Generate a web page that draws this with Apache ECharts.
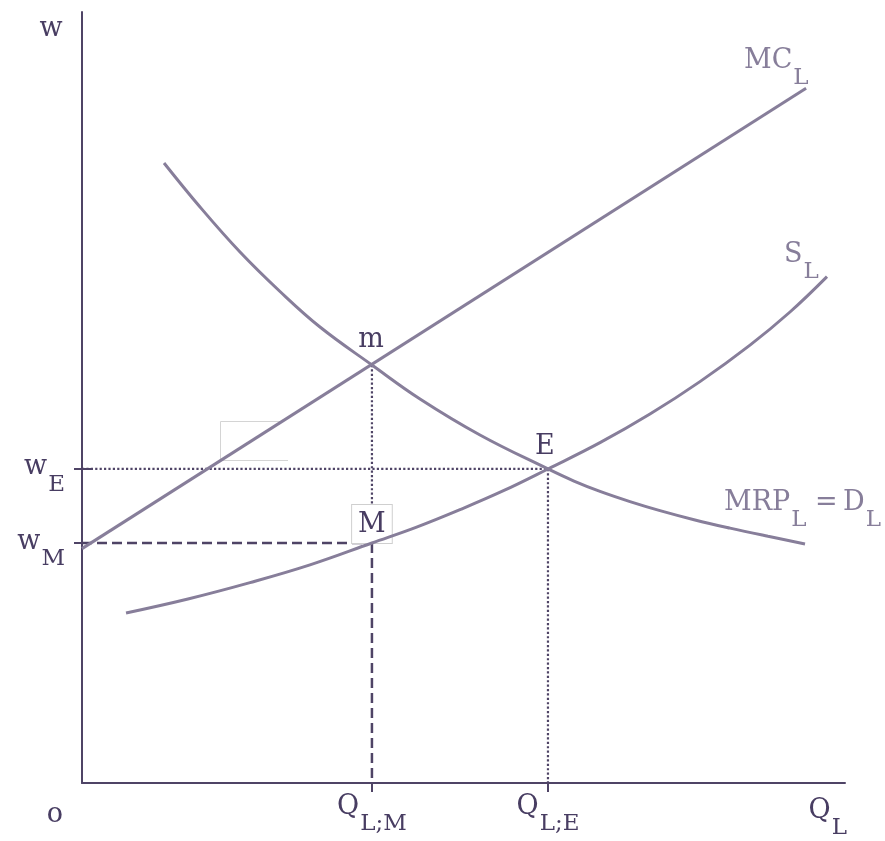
<!DOCTYPE html>
<html>
<head>
<meta charset="utf-8">
<title>Monopsony in the labour market</title>
<script src="https://cdn.jsdelivr.net/npm/echarts@6/dist/echarts.min.js"></script>
<style>
  html, body { margin: 0; padding: 0; background: #ffffff; }
  #chart { width: 885px; height: 841px; }
</style>
</head>
<body>
<div id="chart"></div>
<script>
// Key quantities and wages on the market diagram
var qM = 38.0;      // Q_L;M  monopsony employment
var qE = 61.07;     // Q_L;E  competitive employment
var wE = 40.73;     // w_E    competitive wage
var wM = 31.13;     // w_M    monopsony wage
var wMrp = 54.22;   // MRP at Q_L;M (point m)

// Marginal cost of labour (straight line)
var mcCurve = [[0, 30.4], [94.9, 90.1]];

// Labour supply S_L
var supplyCurve = [
  [5.77, 22.05], [13.89, 23.87], [22.02, 25.99], [29.88, 28.29], [38.0, 31.13],
  [43.77, 33.15], [49.54, 35.45], [55.31, 37.94], [61.07, 40.73], [67.89, 44.14],
  [74.44, 47.85], [80.99, 52.06], [87.55, 56.80], [92.79, 61.09], [97.64, 65.68]
];

// Marginal revenue product = labour demand
var demandCurve = [
  [10.75, 80.42], [15.47, 74.71], [20.71, 68.87], [25.95, 63.75], [31.19, 59.14],
  [38.0, 54.22], [44.30, 49.81], [52.16, 45.14], [61.07, 40.73], [64.48, 39.16],
  [67.89, 37.82], [71.82, 36.50], [75.75, 35.33], [80.34, 34.12], [84.93, 33.06],
  [89.91, 32.00], [94.76, 31.01]
];

// Tick values and their labels (main letter + subscript)
var yTickValues = [wM, wE];
var yTickLabels = [['w', 'M'], ['w', 'E']];
var xTickValues = [qM, qE];
var xTickLabels = [['Q', 'L;M'], ['Q', 'L;E']];

// Named points
var pointNames = ['m', 'E', 'M'];
var pointValues = [[qM, wMrp], [qE, wE], [qM, wM]];

var AXIS = '#4f4466';
var TEXT = '#483d62';
var CURVE = '#877e9a';
var FONT = 'DejaVu Serif';
var MAIN_SIZE = 27;
var SUB_SIZE = 23;

// rich text for chart labels (uses `color`)
function labelRich(color) {
  return {
    b: { fontFamily: FONT, fontSize: MAIN_SIZE, lineHeight: 30, verticalAlign: 'top', color: color },
    s: { fontFamily: FONT, fontSize: SUB_SIZE, lineHeight: 22, verticalAlign: 'top', color: color, padding: [20, 0, 0, 1] }
  };
}
// rich text for free graphic texts (uses `fill`)
function graphicRich(color) {
  return {
    b: { fontFamily: FONT, fontSize: MAIN_SIZE, lineHeight: 30, verticalAlign: 'top', fill: color },
    s: { fontFamily: FONT, fontSize: SUB_SIZE, lineHeight: 22, verticalAlign: 'top', fill: color, padding: [20, 0, 0, 1] }
  };
}

function tickFormatter(values, labels) {
  return function (v) {
    var i = values.indexOf(v);
    if (i < 0) return '';
    return '{b|' + labels[i][0] + '}{s|' + labels[i][1] + '}';
  };
}

function caption(x, y, text, color, align) {
  return {
    type: 'text', z: 5, silent: true,
    style: { x: x, y: y, text: text, rich: graphicRich(color), align: align || 'left', verticalAlign: 'top' }
  };
}

var chart = echarts.init(document.getElementById('chart'), null, { renderer: 'canvas' });

var guideStyleDot = { color: AXIS, width: 2.2, type: [2.2, 2.2] };
var guideStyleDash = { color: AXIS, width: 2.5, type: [10, 5] };

function guide(data, style) {
  return {
    type: 'line', data: data, symbol: 'none', silent: true, z: 1,
    lineStyle: style
  };
}

var option = {
  animation: false,
  backgroundColor: '#ffffff',
  grid: { left: 82, right: 40, top: 12, bottom: 58 },
  xAxis: {
    type: 'value', min: 0, max: 100,
    axisLine: { show: true, lineStyle: { color: AXIS, width: 2 } },
    axisTick: { show: true, customValues: xTickValues, length: 9, lineStyle: { color: AXIS, width: 2 } },
    axisLabel: {
      show: true, customValues: xTickValues, margin: 10,
      formatter: tickFormatter(xTickValues, xTickLabels),
      rich: labelRich(TEXT)
    },
    splitLine: { show: false }
  },
  yAxis: [{
    type: 'value', min: 0, max: 100,
    axisLine: { show: true, lineStyle: { color: AXIS, width: 2 } },
    axisTick: { show: true, customValues: yTickValues, length: 8, lineStyle: { color: AXIS, width: 2 } },
    axisLabel: {
      show: true, customValues: yTickValues, margin: 17,
      formatter: tickFormatter(yTickValues, yTickLabels),
      rich: labelRich(TEXT)
    },
    splitLine: { show: false }
  }, {
    // inner half of the wage tick marks
    type: 'value', min: 0, max: 100, position: 'left',
    axisLine: { show: false },
    axisTick: { show: true, inside: true, customValues: yTickValues, length: 10, lineStyle: { color: AXIS, width: 2 } },
    axisLabel: { show: false },
    splitLine: { show: false }
  }],
  series: [
    guide([[0, wE], [qE, wE]], guideStyleDot),
    guide([[qE, wE], [qE, 0]], guideStyleDot),
    guide([[qM, wMrp], [qM, wM]], guideStyleDot),
    guide([[0, wM], [qM, wM]], guideStyleDash),
    guide([[qM, wM], [qM, 0]], guideStyleDash),
    {
      type: 'scatter', symbolSize: 0, z: 2, silent: true,
      itemStyle: { opacity: 1 },
      data: pointNames.map(function (n, i) {
        var item = { name: n, value: pointValues[i] };
        if (n === 'M') {
          item.label = {
            position: 'top', distance: 0,
            backgroundColor: '#ffffff', borderColor: '#cfcfcf', borderWidth: 1,
            padding: [7, 6, 5, 6], lineHeight: 26
          };
        } else if (n === 'E') {
          item.label = { position: 'top', distance: 7, offset: [-3, 0] };
        } else {
          item.label = { position: 'top', distance: 10, offset: [-1, 0] };
        }
        return item;
      }),
      label: {
        show: true, formatter: '{b}', color: TEXT, opacity: 1,
        fontFamily: FONT, fontSize: MAIN_SIZE, lineHeight: 30
      }
    },
    {
      type: 'line', name: 'MC_L', data: mcCurve, symbol: 'none', z: 3,
      lineStyle: { color: CURVE, width: 3 }
    },
    {
      type: 'line', name: 'S_L', data: supplyCurve, symbol: 'none', smooth: 0.4, z: 3,
      lineStyle: { color: CURVE, width: 3 }
    },
    {
      type: 'line', name: 'MRP_L = D_L', data: demandCurve, symbol: 'none', smooth: 0.4, z: 3,
      lineStyle: { color: CURVE, width: 3 }
    }
  ],
  graphic: [
    caption(51, 15, '{b|w}', TEXT, 'center'),
    caption(55, 801, '{b|o}', TEXT, 'center'),
    caption(847, 797, '{b|Q}{s|L}', TEXT, 'right'),
    caption(744, 47, '{b|MC}{s|L}', CURVE),
    caption(784, 241, '{b|S}{s|L}', CURVE),
    caption(724, 489, '{b|MRP}{s|L}{b| =\u2009D}{s|L}', CURVE),
    { type: 'polyline', z: 0, silent: true,
      shape: { points: [[288, 460.5], [220.5, 460.5], [220.5, 421.5], [283, 421.5]] },
      style: { stroke: '#d4d4d4', lineWidth: 1, fill: null } }
  ]
};

chart.setOption(option);
</script>
</body>
</html>
